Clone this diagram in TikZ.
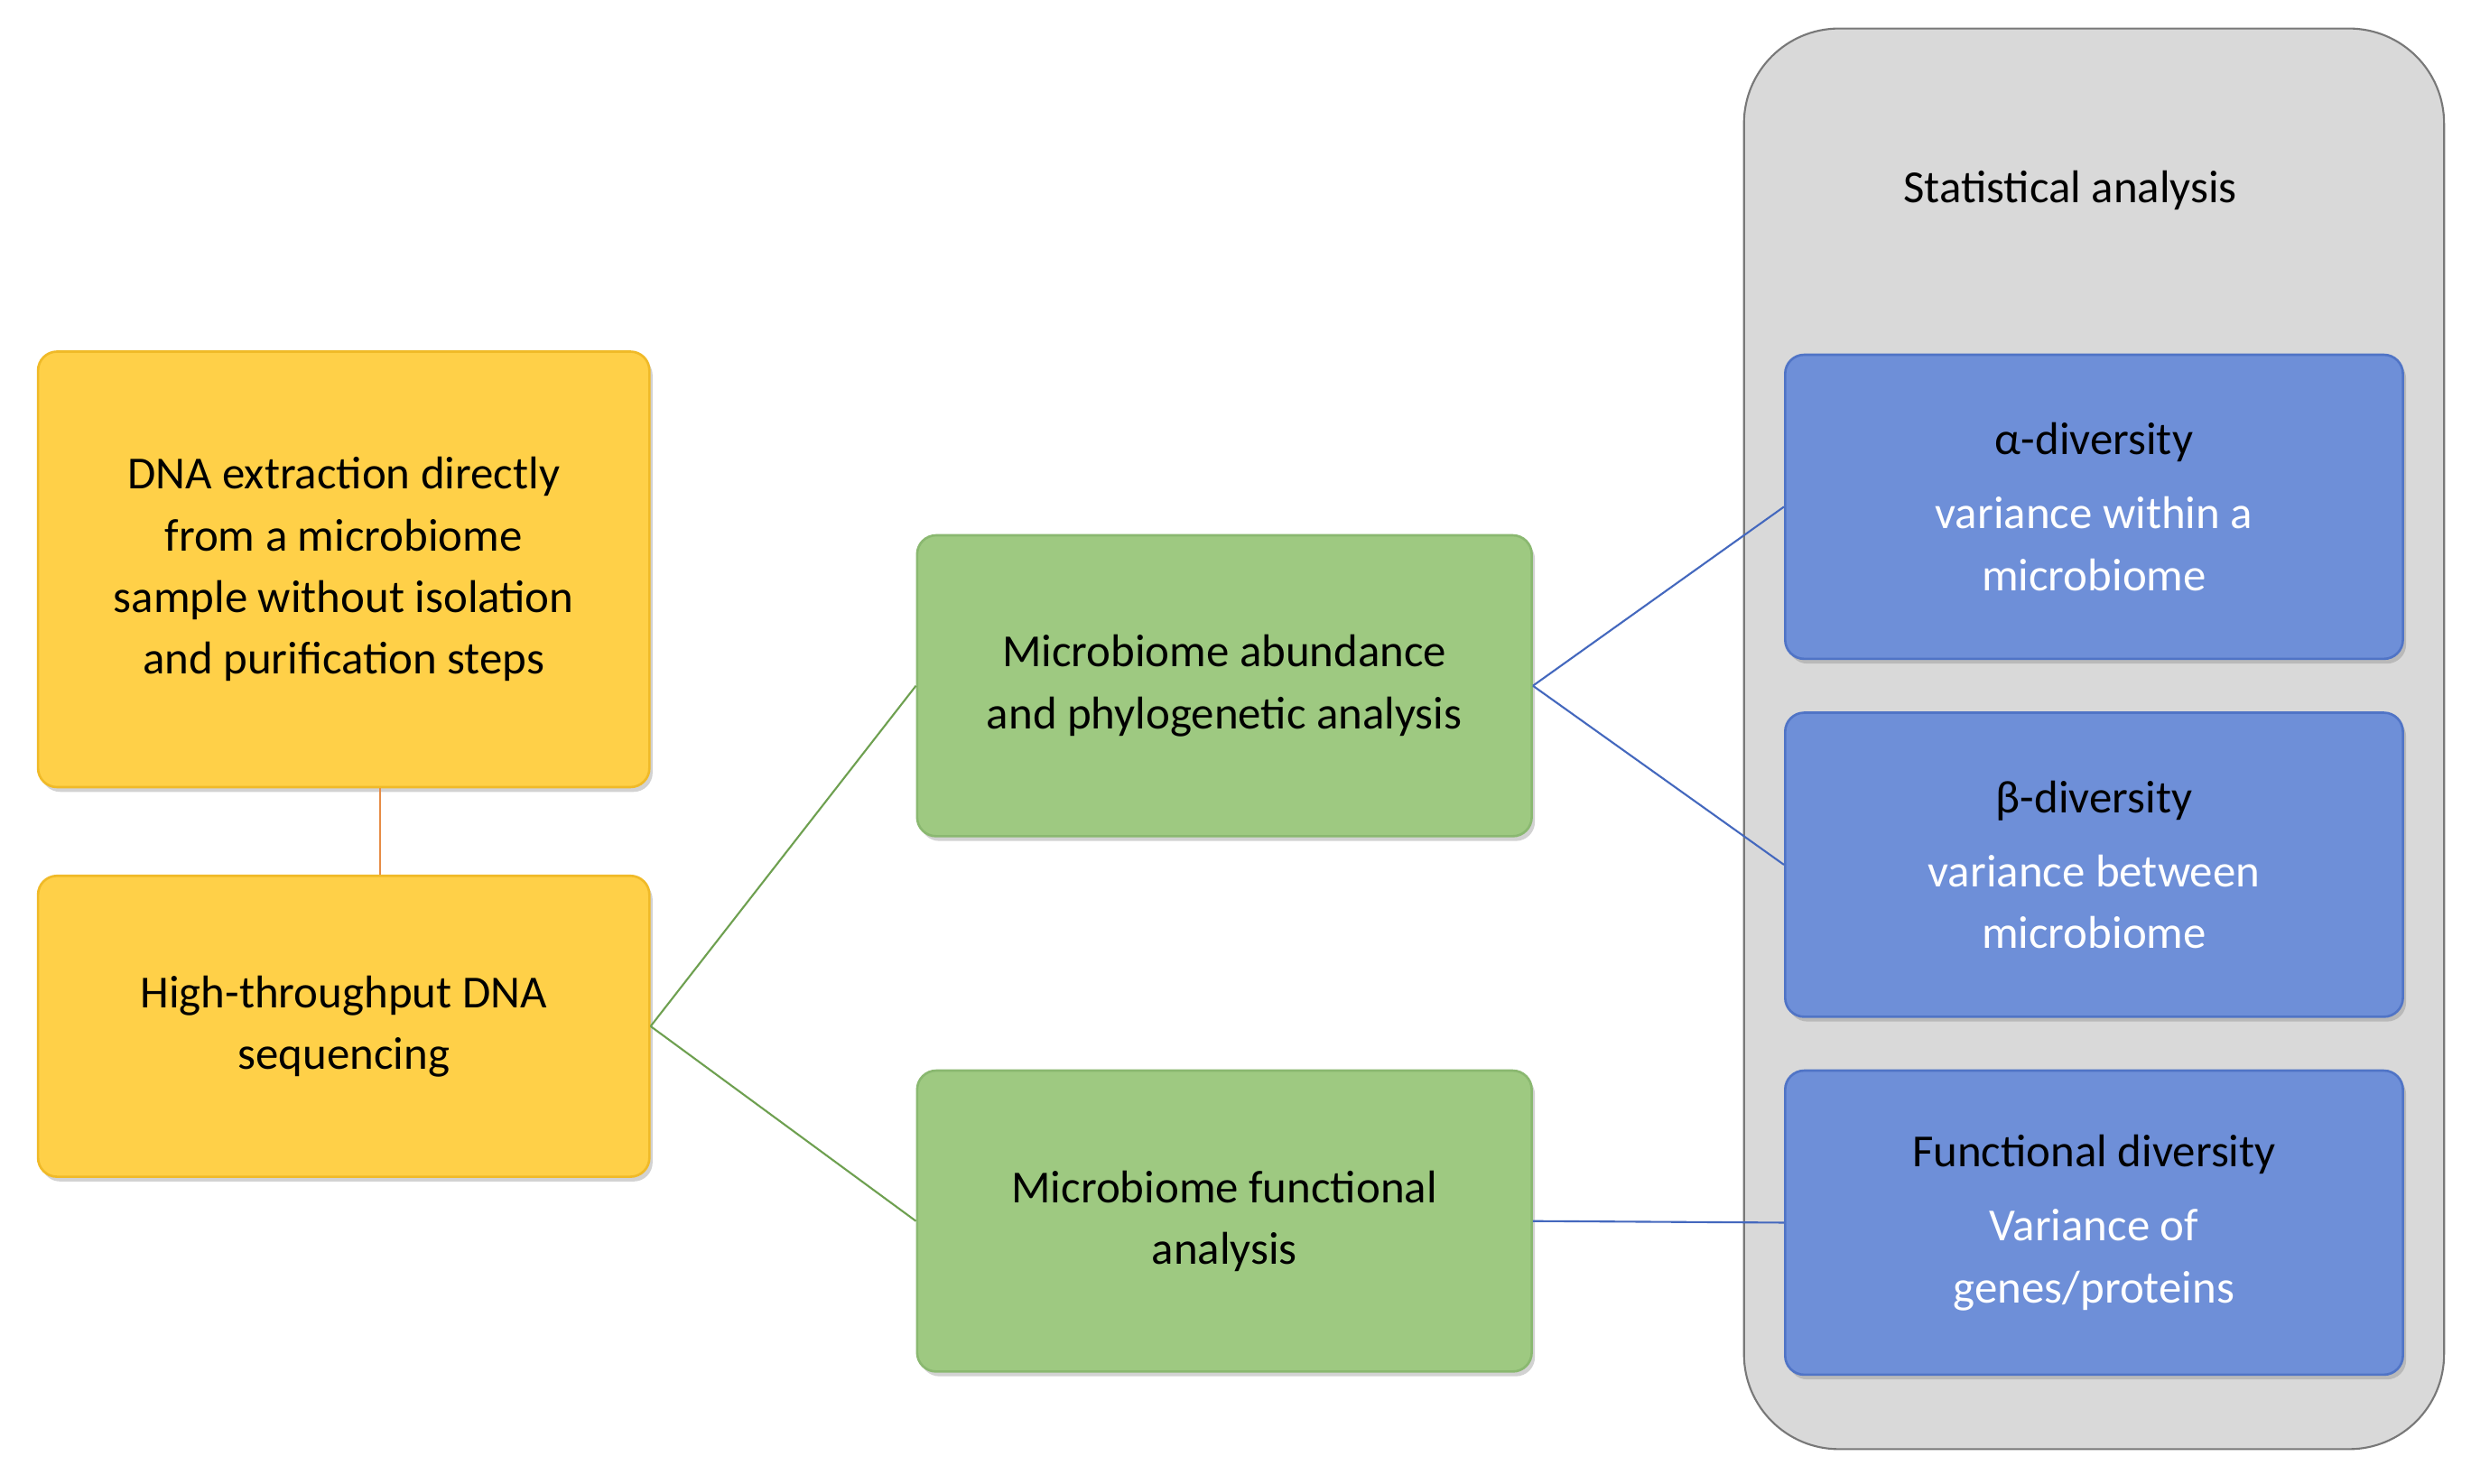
\documentclass[tikz,border=0pt]{standalone}
\usepackage{fontspec}
\setmainfont{Carlito}
\usetikzlibrary{shadows}
\definecolor{yelFill}{RGB}{255,208,72}
\definecolor{yelLine}{RGB}{240,186,40}
\definecolor{grnFill}{RGB}{158,201,129}
\definecolor{grnLine}{RGB}{138,184,112}
\definecolor{bluFill}{RGB}{110,143,216}
\definecolor{bluLine}{RGB}{80,116,198}
\definecolor{panFill}{RGB}{217,217,217}
\definecolor{panLine}{RGB}{120,120,120}
\definecolor{conOrange}{RGB}{230,140,70}
\definecolor{conGreen}{RGB}{110,160,80}
\definecolor{conBlue}{RGB}{68,104,190}
\begin{document}
\begin{tikzpicture}[x=1pt,y=-1pt,
  box/.style={rounded corners=12pt,line width=1.5pt,align=center,
    inner sep=0pt,font=\fontsize{29}{39}\selectfont,
    drop shadow={shadow xshift=2pt,shadow yshift=-3pt,opacity=0.35}},
  yel/.style={box,fill=yelFill,draw=yelLine,minimum width=386pt},
  grn/.style={box,fill=grnFill,draw=grnLine,minimum width=388pt,minimum height=190pt},
  blu/.style={box,fill=bluFill,draw=bluLine,minimum width=390pt,minimum height=192pt},
  con/.style={line width=1.2pt}]
\path[use as bounding box,fill=white] (0,0) rectangle (1560,937);
\draw[fill=panFill,draw=panLine,line width=1.2pt,rounded corners=60pt] (1101,18) rectangle (1543,915);
\node[font=\fontsize{29}{39}\selectfont] (title) at (1307,120) {Statistical analysis};

\node[yel,minimum height=275pt] (dna) at (217,359.5) {DNA extraction directly\\from a microbiome\\sample without isolation\\and purification steps};
\node[yel,minimum height=190pt] (seq) at (217,648) {High-throughput DNA\\sequencing};
\node[grn] (abun) at (773,433) {Microbiome abundance\\and phylogenetic analysis};
\node[grn] (func) at (773,771) {Microbiome functional\\analysis};
\node[blu] (alpha) at (1322,320) {α-diversity\\[8pt]\textcolor{white}{variance within a}\\\textcolor{white}{microbiome}};
\node[blu] (beta) at (1322,546) {β-diversity\\[8pt]\textcolor{white}{variance between}\\\textcolor{white}{microbiome}};
\node[blu] (fdiv) at (1322,772) {Functional diversity\\[8pt]\textcolor{white}{Variance of}\\\textcolor{white}{genes/proteins}};

\draw[con,conOrange] (dna.south -| 240,0) -- (seq.north -| 240,0);
\draw[con,conGreen] (seq.east) -- (abun.west);
\draw[con,conGreen] (seq.east) -- (func.west);
\draw[con,conBlue] (abun.east) -- (alpha.west);
\draw[con,conBlue] (abun.east) -- (beta.west);
\draw[con,conBlue] (func.east) -- (fdiv.west);
\end{tikzpicture}
\end{document}
